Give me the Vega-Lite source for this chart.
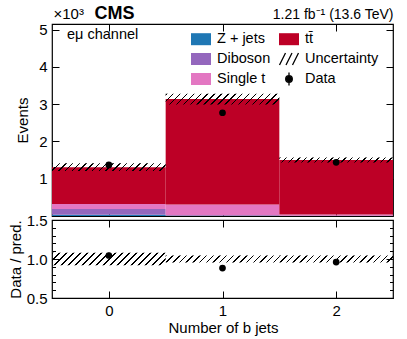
{
  "$schema": "https://vega.github.io/schema/vega-lite/v6.json",
  "padding": {"left": 7, "top": 3, "right": 5, "bottom": 5},
  "background": "white",
  "bounds": "flush",
  "config": {
    "font": "Liberation Sans",
    "view": {"stroke": "black", "strokeWidth": 1.2},
    "axis": {"domain": false, "grid": false, "labelFontSize": 15, "titleFontSize": 15, "titleFontWeight": "normal", "labelColor": "black", "titleColor": "black", "tickColor": "black", "tickWidth": 1, "labelPadding": 12}
  },
  "datasets": {
    "mc": [
      {"nb": 0, "lo": -0.5, "hi": 0.5, "process": "Z + jets", "ord": 1, "events": 0.035},
      {"nb": 0, "lo": -0.5, "hi": 0.5, "process": "Diboson", "ord": 2, "events": 0.155},
      {"nb": 0, "lo": -0.5, "hi": 0.5, "process": "Single t", "ord": 3, "events": 0.135},
      {"nb": 0, "lo": -0.5, "hi": 0.5, "process": "tt\u0304", "ord": 4, "events": 0.985},
      {"nb": 1, "lo": 0.5, "hi": 1.5, "process": "Z + jets", "ord": 1, "events": 0.005},
      {"nb": 1, "lo": 0.5, "hi": 1.5, "process": "Diboson", "ord": 2, "events": 0.012},
      {"nb": 1, "lo": 0.5, "hi": 1.5, "process": "Single t", "ord": 3, "events": 0.29},
      {"nb": 1, "lo": 0.5, "hi": 1.5, "process": "tt\u0304", "ord": 4, "events": 2.828},
      {"nb": 2, "lo": 1.5, "hi": 2.5, "process": "Z + jets", "ord": 1, "events": 0.002},
      {"nb": 2, "lo": 1.5, "hi": 2.5, "process": "Diboson", "ord": 2, "events": 0.003},
      {"nb": 2, "lo": 1.5, "hi": 2.5, "process": "Single t", "ord": 3, "events": 0.032},
      {"nb": 2, "lo": 1.5, "hi": 2.5, "process": "tt\u0304", "ord": 4, "events": 1.463}
    ],
    "unc": [
      {"nb": 0, "lo": -0.5, "hi": 0.5, "plo": 1.205, "phi": 1.415, "rlo": 0.92, "rhi": 1.08},
      {"nb": 1, "lo": 0.5, "hi": 1.5, "plo": 2.994, "phi": 3.276, "rlo": 0.955, "rhi": 1.045},
      {"nb": 2, "lo": 1.5, "hi": 2.5, "plo": 1.4325, "phi": 1.5675, "rlo": 0.955, "rhi": 1.045}
    ],
    "obs": [
      {"nb": 0, "events": 1.37, "elo": 1.333, "ehi": 1.407, "ratio": 1.045, "qlo": 1.017, "qhi": 1.073},
      {"nb": 1, "events": 2.77, "elo": 2.717, "ehi": 2.823, "ratio": 0.884, "qlo": 0.867, "qhi": 0.901},
      {"nb": 2, "events": 1.44, "elo": 1.402, "ehi": 1.478, "ratio": 0.96, "qlo": 0.935, "qhi": 0.985}
    ]
  },
  "spacing": 4,
  "resolve": {"scale": {"y": "independent"}, "legend": {"color": "independent"}},
  "vconcat": [
    {
      "width": 341,
      "height": 192,
      "resolve": {"axis": {"x": "independent", "y": "independent"}},
      "layer": [
        {
          "data": {"name": "mc"},
          "transform": [{"stack": "events", "groupby": ["nb"], "sort": [{"field": "ord", "order": "ascending"}], "as": ["y0", "y1"]}],
          "mark": {"type": "rect"},
          "encoding": {
            "x": {"field": "lo", "type": "quantitative", "scale": {"domain": [-0.5, 2.5], "nice": false, "zero": false},
                  "axis": {"orient": "bottom", "values": [0, 1, 2], "labels": false, "tickSize": -7, "title": "CMS", "titleX": 42, "titleY": -198, "titleAlign": "left", "titleBaseline": "alphabetic", "titleFontSize": 18, "titleFontWeight": "bold"}},
            "x2": {"field": "hi"},
            "y": {"field": "y0", "type": "quantitative", "scale": {"domain": [0, 5.15], "nice": false, "zero": false},
                  "axis": {"orient": "left", "values": [1, 2, 3, 4, 5], "tickSize": -7, "title": "Events", "titleX": -30, "titleY": 96, "titleAlign": "center", "titleBaseline": "middle"}},
            "y2": {"field": "y1"},
            "color": {"field": "process", "type": "nominal",
                      "scale": {"domain": ["Z + jets", "Diboson", "Single t", "tt\u0304", "Uncertainty", "Data"], "range": ["#1f77b4", "#9467bd", "#e377c2", "#bd0026", "transparent", "black"]},
                      "legend": {
                        "title": "e\u03bc channel", "titleOrient": "left", "titleAnchor": "start", "titleFontSize": 14.5, "titleFontWeight": "normal", "titleColor": "black", "titlePadding": 51,
                        "orient": "none", "legendX": 15, "legendY": 4,
                        "columns": 2, "columnPadding": 5, "rowPadding": 0,
                        "symbolSize": 400, "labelFontSize": 14.5, "labelOffset": 5, "labelColor": "black",
                        "encode": {"symbols": {"update": {
                          "shape": {"signal": "datum.value === 'Uncertainty' ? 'M-0.95,0.6L-0.35,-0.6M-0.3,0.6L0.3,-0.6M0.35,0.6L0.95,-0.6' : datum.value === 'Data' ? 'M0,-0.65V0.65M0.33,0A0.33,0.33,0,1,1,-0.33,0A0.33,0.33,0,1,1,0.33,0Z' : 'M-1,-0.6H1V0.6H-1Z'"},
                          "stroke": {"signal": "(datum.value === 'Uncertainty' || datum.value === 'Data') ? 'black' : 'transparent'"},
                          "strokeWidth": {"value": 1.3}
                        }}}
                      }}
          }
        },
        {
          "data": {"name": "unc"},
          "transform": [{"filter": "datum.nb === 0"}],
          "mark": {"type": "rect", "fill": {"gradient": "linear", "x1": 0, "y1": 0, "x2": 1.0638, "y2": 0.0733, "stops": [
{"offset":0,"color":"black"},{"offset":0.0122,"color":"black"},{"offset":0.0122,"color":"transparent"},{"offset":0.0556,"color":"transparent"},
{"offset":0.0556,"color":"black"},{"offset":0.0678,"color":"black"},{"offset":0.0678,"color":"transparent"},{"offset":0.1111,"color":"transparent"},
{"offset":0.1111,"color":"black"},{"offset":0.1233,"color":"black"},{"offset":0.1233,"color":"transparent"},{"offset":0.1667,"color":"transparent"},
{"offset":0.1667,"color":"black"},{"offset":0.1789,"color":"black"},{"offset":0.1789,"color":"transparent"},{"offset":0.2222,"color":"transparent"},
{"offset":0.2222,"color":"black"},{"offset":0.2344,"color":"black"},{"offset":0.2344,"color":"transparent"},{"offset":0.2778,"color":"transparent"},
{"offset":0.2778,"color":"black"},{"offset":0.29,"color":"black"},{"offset":0.29,"color":"transparent"},{"offset":0.3333,"color":"transparent"},
{"offset":0.3333,"color":"black"},{"offset":0.3456,"color":"black"},{"offset":0.3456,"color":"transparent"},{"offset":0.3889,"color":"transparent"},
{"offset":0.3889,"color":"black"},{"offset":0.4011,"color":"black"},{"offset":0.4011,"color":"transparent"},{"offset":0.4444,"color":"transparent"},
{"offset":0.4444,"color":"black"},{"offset":0.4567,"color":"black"},{"offset":0.4567,"color":"transparent"},{"offset":0.5,"color":"transparent"},
{"offset":0.5,"color":"black"},{"offset":0.5122,"color":"black"},{"offset":0.5122,"color":"transparent"},{"offset":0.5556,"color":"transparent"},
{"offset":0.5556,"color":"black"},{"offset":0.5678,"color":"black"},{"offset":0.5678,"color":"transparent"},{"offset":0.6111,"color":"transparent"},
{"offset":0.6111,"color":"black"},{"offset":0.6233,"color":"black"},{"offset":0.6233,"color":"transparent"},{"offset":0.6667,"color":"transparent"},
{"offset":0.6667,"color":"black"},{"offset":0.6789,"color":"black"},{"offset":0.6789,"color":"transparent"},{"offset":0.7222,"color":"transparent"},
{"offset":0.7222,"color":"black"},{"offset":0.7344,"color":"black"},{"offset":0.7344,"color":"transparent"},{"offset":0.7778,"color":"transparent"},
{"offset":0.7778,"color":"black"},{"offset":0.79,"color":"black"},{"offset":0.79,"color":"transparent"},{"offset":0.8333,"color":"transparent"},
{"offset":0.8333,"color":"black"},{"offset":0.8456,"color":"black"},{"offset":0.8456,"color":"transparent"},{"offset":0.8889,"color":"transparent"},
{"offset":0.8889,"color":"black"},{"offset":0.9011,"color":"black"},{"offset":0.9011,"color":"transparent"},{"offset":0.9444,"color":"transparent"},
{"offset":0.9444,"color":"black"},{"offset":0.9567,"color":"black"},{"offset":0.9567,"color":"transparent"},{"offset":1,"color":"transparent"}
          ]}},
          "encoding": {
            "x": {"field": "lo", "type": "quantitative",
                  "axis": {"orient": "top", "values": [0, 1, 2], "labels": false, "tickSize": -7, "title": "1.21 fb\u207b\u00b9 (13.6 TeV)", "titleX": 341, "titleY": -6, "titleAlign": "right", "titleBaseline": "alphabetic", "titleFontSize": 14}},
            "x2": {"field": "hi"},
            "y": {"field": "plo", "type": "quantitative",
                  "axis": {"orient": "right", "values": [1, 2, 3, 4, 5], "labels": false, "tickSize": -7, "title": "\u00d710\u00b3", "titleAngle": 0, "titleX": -340, "titleY": -6, "titleAlign": "left", "titleBaseline": "alphabetic", "titleFontSize": 15}},
            "y2": {"field": "phi"}
          }
        },
        {
          "data": {"name": "unc"},
          "transform": [{"filter": "datum.nb === 1"}],
          "mark": {"type": "rect", "fill": {"gradient": "linear", "x1": 0, "y1": 0, "x2": 1.0832, "y2": 0.1002, "stops": [
{"offset":0,"color":"black"},{"offset":0.0122,"color":"black"},{"offset":0.0122,"color":"transparent"},{"offset":0.0556,"color":"transparent"},
{"offset":0.0556,"color":"black"},{"offset":0.0678,"color":"black"},{"offset":0.0678,"color":"transparent"},{"offset":0.1111,"color":"transparent"},
{"offset":0.1111,"color":"black"},{"offset":0.1233,"color":"black"},{"offset":0.1233,"color":"transparent"},{"offset":0.1667,"color":"transparent"},
{"offset":0.1667,"color":"black"},{"offset":0.1789,"color":"black"},{"offset":0.1789,"color":"transparent"},{"offset":0.2222,"color":"transparent"},
{"offset":0.2222,"color":"black"},{"offset":0.2344,"color":"black"},{"offset":0.2344,"color":"transparent"},{"offset":0.2778,"color":"transparent"},
{"offset":0.2778,"color":"black"},{"offset":0.29,"color":"black"},{"offset":0.29,"color":"transparent"},{"offset":0.3333,"color":"transparent"},
{"offset":0.3333,"color":"black"},{"offset":0.3456,"color":"black"},{"offset":0.3456,"color":"transparent"},{"offset":0.3889,"color":"transparent"},
{"offset":0.3889,"color":"black"},{"offset":0.4011,"color":"black"},{"offset":0.4011,"color":"transparent"},{"offset":0.4444,"color":"transparent"},
{"offset":0.4444,"color":"black"},{"offset":0.4567,"color":"black"},{"offset":0.4567,"color":"transparent"},{"offset":0.5,"color":"transparent"},
{"offset":0.5,"color":"black"},{"offset":0.5122,"color":"black"},{"offset":0.5122,"color":"transparent"},{"offset":0.5556,"color":"transparent"},
{"offset":0.5556,"color":"black"},{"offset":0.5678,"color":"black"},{"offset":0.5678,"color":"transparent"},{"offset":0.6111,"color":"transparent"},
{"offset":0.6111,"color":"black"},{"offset":0.6233,"color":"black"},{"offset":0.6233,"color":"transparent"},{"offset":0.6667,"color":"transparent"},
{"offset":0.6667,"color":"black"},{"offset":0.6789,"color":"black"},{"offset":0.6789,"color":"transparent"},{"offset":0.7222,"color":"transparent"},
{"offset":0.7222,"color":"black"},{"offset":0.7344,"color":"black"},{"offset":0.7344,"color":"transparent"},{"offset":0.7778,"color":"transparent"},
{"offset":0.7778,"color":"black"},{"offset":0.79,"color":"black"},{"offset":0.79,"color":"transparent"},{"offset":0.8333,"color":"transparent"},
{"offset":0.8333,"color":"black"},{"offset":0.8456,"color":"black"},{"offset":0.8456,"color":"transparent"},{"offset":0.8889,"color":"transparent"},
{"offset":0.8889,"color":"black"},{"offset":0.9011,"color":"black"},{"offset":0.9011,"color":"transparent"},{"offset":0.9444,"color":"transparent"},
{"offset":0.9444,"color":"black"},{"offset":0.9567,"color":"black"},{"offset":0.9567,"color":"transparent"},{"offset":1,"color":"transparent"}
          ]}},
          "encoding": {
            "x": {"field": "lo", "type": "quantitative", "axis": null},
            "x2": {"field": "hi"},
            "y": {"field": "plo", "type": "quantitative", "axis": null},
            "y2": {"field": "phi"}
          }
        },
        {
          "data": {"name": "unc"},
          "transform": [{"filter": "datum.nb === 2"}],
          "mark": {"type": "rect", "fill": {"gradient": "linear", "x1": 0, "y1": 0, "x2": 1.0422, "y2": 0.0461, "stops": [
{"offset":0,"color":"black"},{"offset":0.0122,"color":"black"},{"offset":0.0122,"color":"transparent"},{"offset":0.0556,"color":"transparent"},
{"offset":0.0556,"color":"black"},{"offset":0.0678,"color":"black"},{"offset":0.0678,"color":"transparent"},{"offset":0.1111,"color":"transparent"},
{"offset":0.1111,"color":"black"},{"offset":0.1233,"color":"black"},{"offset":0.1233,"color":"transparent"},{"offset":0.1667,"color":"transparent"},
{"offset":0.1667,"color":"black"},{"offset":0.1789,"color":"black"},{"offset":0.1789,"color":"transparent"},{"offset":0.2222,"color":"transparent"},
{"offset":0.2222,"color":"black"},{"offset":0.2344,"color":"black"},{"offset":0.2344,"color":"transparent"},{"offset":0.2778,"color":"transparent"},
{"offset":0.2778,"color":"black"},{"offset":0.29,"color":"black"},{"offset":0.29,"color":"transparent"},{"offset":0.3333,"color":"transparent"},
{"offset":0.3333,"color":"black"},{"offset":0.3456,"color":"black"},{"offset":0.3456,"color":"transparent"},{"offset":0.3889,"color":"transparent"},
{"offset":0.3889,"color":"black"},{"offset":0.4011,"color":"black"},{"offset":0.4011,"color":"transparent"},{"offset":0.4444,"color":"transparent"},
{"offset":0.4444,"color":"black"},{"offset":0.4567,"color":"black"},{"offset":0.4567,"color":"transparent"},{"offset":0.5,"color":"transparent"},
{"offset":0.5,"color":"black"},{"offset":0.5122,"color":"black"},{"offset":0.5122,"color":"transparent"},{"offset":0.5556,"color":"transparent"},
{"offset":0.5556,"color":"black"},{"offset":0.5678,"color":"black"},{"offset":0.5678,"color":"transparent"},{"offset":0.6111,"color":"transparent"},
{"offset":0.6111,"color":"black"},{"offset":0.6233,"color":"black"},{"offset":0.6233,"color":"transparent"},{"offset":0.6667,"color":"transparent"},
{"offset":0.6667,"color":"black"},{"offset":0.6789,"color":"black"},{"offset":0.6789,"color":"transparent"},{"offset":0.7222,"color":"transparent"},
{"offset":0.7222,"color":"black"},{"offset":0.7344,"color":"black"},{"offset":0.7344,"color":"transparent"},{"offset":0.7778,"color":"transparent"},
{"offset":0.7778,"color":"black"},{"offset":0.79,"color":"black"},{"offset":0.79,"color":"transparent"},{"offset":0.8333,"color":"transparent"},
{"offset":0.8333,"color":"black"},{"offset":0.8456,"color":"black"},{"offset":0.8456,"color":"transparent"},{"offset":0.8889,"color":"transparent"},
{"offset":0.8889,"color":"black"},{"offset":0.9011,"color":"black"},{"offset":0.9011,"color":"transparent"},{"offset":0.9444,"color":"transparent"},
{"offset":0.9444,"color":"black"},{"offset":0.9567,"color":"black"},{"offset":0.9567,"color":"transparent"},{"offset":1,"color":"transparent"}
          ]}},
          "encoding": {
            "x": {"field": "lo", "type": "quantitative", "axis": null},
            "x2": {"field": "hi"},
            "y": {"field": "plo", "type": "quantitative", "axis": null},
            "y2": {"field": "phi"}
          }
        },
        {
          "data": {"name": "obs"},
          "mark": {"type": "rule", "color": "black", "strokeWidth": 1.3},
          "encoding": {
            "x": {"field": "nb", "type": "quantitative", "axis": null},
            "y": {"field": "elo", "type": "quantitative", "axis": null},
            "y2": {"field": "ehi"}
          }
        },
        {
          "data": {"name": "obs"},
          "mark": {"type": "point", "filled": true, "color": "black", "size": 45, "opacity": 1},
          "encoding": {
            "x": {"field": "nb", "type": "quantitative", "axis": null},
            "y": {"field": "events", "type": "quantitative", "axis": null}
          }
        }
      ]
    },
    {
      "width": 341,
      "height": 78,
      "resolve": {"axis": {"x": "independent", "y": "independent"}},
      "layer": [
        {
          "data": {"name": "unc"},
          "transform": [{"filter": "datum.nb === 0"}],
          "mark": {"type": "rect", "fill": {"gradient": "linear", "x1": 0, "y1": 0, "x2": 1.0966, "y2": 0.1204, "stops": [
{"offset":0,"color":"black"},{"offset":0.0122,"color":"black"},{"offset":0.0122,"color":"transparent"},{"offset":0.0556,"color":"transparent"},
{"offset":0.0556,"color":"black"},{"offset":0.0678,"color":"black"},{"offset":0.0678,"color":"transparent"},{"offset":0.1111,"color":"transparent"},
{"offset":0.1111,"color":"black"},{"offset":0.1233,"color":"black"},{"offset":0.1233,"color":"transparent"},{"offset":0.1667,"color":"transparent"},
{"offset":0.1667,"color":"black"},{"offset":0.1789,"color":"black"},{"offset":0.1789,"color":"transparent"},{"offset":0.2222,"color":"transparent"},
{"offset":0.2222,"color":"black"},{"offset":0.2344,"color":"black"},{"offset":0.2344,"color":"transparent"},{"offset":0.2778,"color":"transparent"},
{"offset":0.2778,"color":"black"},{"offset":0.29,"color":"black"},{"offset":0.29,"color":"transparent"},{"offset":0.3333,"color":"transparent"},
{"offset":0.3333,"color":"black"},{"offset":0.3456,"color":"black"},{"offset":0.3456,"color":"transparent"},{"offset":0.3889,"color":"transparent"},
{"offset":0.3889,"color":"black"},{"offset":0.4011,"color":"black"},{"offset":0.4011,"color":"transparent"},{"offset":0.4444,"color":"transparent"},
{"offset":0.4444,"color":"black"},{"offset":0.4567,"color":"black"},{"offset":0.4567,"color":"transparent"},{"offset":0.5,"color":"transparent"},
{"offset":0.5,"color":"black"},{"offset":0.5122,"color":"black"},{"offset":0.5122,"color":"transparent"},{"offset":0.5556,"color":"transparent"},
{"offset":0.5556,"color":"black"},{"offset":0.5678,"color":"black"},{"offset":0.5678,"color":"transparent"},{"offset":0.6111,"color":"transparent"},
{"offset":0.6111,"color":"black"},{"offset":0.6233,"color":"black"},{"offset":0.6233,"color":"transparent"},{"offset":0.6667,"color":"transparent"},
{"offset":0.6667,"color":"black"},{"offset":0.6789,"color":"black"},{"offset":0.6789,"color":"transparent"},{"offset":0.7222,"color":"transparent"},
{"offset":0.7222,"color":"black"},{"offset":0.7344,"color":"black"},{"offset":0.7344,"color":"transparent"},{"offset":0.7778,"color":"transparent"},
{"offset":0.7778,"color":"black"},{"offset":0.79,"color":"black"},{"offset":0.79,"color":"transparent"},{"offset":0.8333,"color":"transparent"},
{"offset":0.8333,"color":"black"},{"offset":0.8456,"color":"black"},{"offset":0.8456,"color":"transparent"},{"offset":0.8889,"color":"transparent"},
{"offset":0.8889,"color":"black"},{"offset":0.9011,"color":"black"},{"offset":0.9011,"color":"transparent"},{"offset":0.9444,"color":"transparent"},
{"offset":0.9444,"color":"black"},{"offset":0.9567,"color":"black"},{"offset":0.9567,"color":"transparent"},{"offset":1,"color":"transparent"}
          ]}},
          "encoding": {
            "x": {"field": "lo", "type": "quantitative", "scale": {"domain": [-0.5, 2.5], "nice": false, "zero": false},
                  "axis": {"orient": "bottom", "values": [0, 1, 2], "tickSize": -7, "title": "Number of b jets", "titleX": 171, "titleY": 34, "titleAlign": "center", "titleBaseline": "alphabetic"}},
            "x2": {"field": "hi"},
            "y": {"field": "rlo", "type": "quantitative", "scale": {"domain": [0.5, 1.5], "nice": false, "zero": false},
                  "axis": {"orient": "left", "values": [0.5, 1.0, 1.5], "format": ".1f", "tickSize": -7, "title": "Data / pred.", "titleX": -37, "titleY": 39, "titleAlign": "center", "titleBaseline": "middle"}},
            "y2": {"field": "rhi"}
          }
        },
        {
          "data": {"name": "unc"},
          "transform": [{"filter": "datum.nb >= 1"}],
          "mark": {"type": "rect", "fill": {"gradient": "linear", "x1": 0, "y1": 0, "x2": 1.0577, "y2": 0.0653, "stops": [
{"offset":0,"color":"black"},{"offset":0.0122,"color":"black"},{"offset":0.0122,"color":"transparent"},{"offset":0.0556,"color":"transparent"},
{"offset":0.0556,"color":"black"},{"offset":0.0678,"color":"black"},{"offset":0.0678,"color":"transparent"},{"offset":0.1111,"color":"transparent"},
{"offset":0.1111,"color":"black"},{"offset":0.1233,"color":"black"},{"offset":0.1233,"color":"transparent"},{"offset":0.1667,"color":"transparent"},
{"offset":0.1667,"color":"black"},{"offset":0.1789,"color":"black"},{"offset":0.1789,"color":"transparent"},{"offset":0.2222,"color":"transparent"},
{"offset":0.2222,"color":"black"},{"offset":0.2344,"color":"black"},{"offset":0.2344,"color":"transparent"},{"offset":0.2778,"color":"transparent"},
{"offset":0.2778,"color":"black"},{"offset":0.29,"color":"black"},{"offset":0.29,"color":"transparent"},{"offset":0.3333,"color":"transparent"},
{"offset":0.3333,"color":"black"},{"offset":0.3456,"color":"black"},{"offset":0.3456,"color":"transparent"},{"offset":0.3889,"color":"transparent"},
{"offset":0.3889,"color":"black"},{"offset":0.4011,"color":"black"},{"offset":0.4011,"color":"transparent"},{"offset":0.4444,"color":"transparent"},
{"offset":0.4444,"color":"black"},{"offset":0.4567,"color":"black"},{"offset":0.4567,"color":"transparent"},{"offset":0.5,"color":"transparent"},
{"offset":0.5,"color":"black"},{"offset":0.5122,"color":"black"},{"offset":0.5122,"color":"transparent"},{"offset":0.5556,"color":"transparent"},
{"offset":0.5556,"color":"black"},{"offset":0.5678,"color":"black"},{"offset":0.5678,"color":"transparent"},{"offset":0.6111,"color":"transparent"},
{"offset":0.6111,"color":"black"},{"offset":0.6233,"color":"black"},{"offset":0.6233,"color":"transparent"},{"offset":0.6667,"color":"transparent"},
{"offset":0.6667,"color":"black"},{"offset":0.6789,"color":"black"},{"offset":0.6789,"color":"transparent"},{"offset":0.7222,"color":"transparent"},
{"offset":0.7222,"color":"black"},{"offset":0.7344,"color":"black"},{"offset":0.7344,"color":"transparent"},{"offset":0.7778,"color":"transparent"},
{"offset":0.7778,"color":"black"},{"offset":0.79,"color":"black"},{"offset":0.79,"color":"transparent"},{"offset":0.8333,"color":"transparent"},
{"offset":0.8333,"color":"black"},{"offset":0.8456,"color":"black"},{"offset":0.8456,"color":"transparent"},{"offset":0.8889,"color":"transparent"},
{"offset":0.8889,"color":"black"},{"offset":0.9011,"color":"black"},{"offset":0.9011,"color":"transparent"},{"offset":0.9444,"color":"transparent"},
{"offset":0.9444,"color":"black"},{"offset":0.9567,"color":"black"},{"offset":0.9567,"color":"transparent"},{"offset":1,"color":"transparent"}
          ]}},
          "encoding": {
            "x": {"field": "lo", "type": "quantitative",
                  "axis": {"orient": "top", "values": [0, 1, 2], "labels": false, "tickSize": -7, "title": null}},
            "x2": {"field": "hi"},
            "y": {"field": "rlo", "type": "quantitative",
                  "axis": {"orient": "right", "values": [0.5, 1.0, 1.5], "labels": false, "tickSize": -7, "title": null}},
            "y2": {"field": "rhi"}
          }
        },
        {
          "data": {"name": "obs"},
          "mark": {"type": "rule", "color": "black", "strokeWidth": 1.3},
          "encoding": {
            "x": {"field": "nb", "type": "quantitative", "axis": null},
            "y": {"field": "qlo", "type": "quantitative",
                  "axis": {"orient": "left", "values": [0.6, 0.7, 0.8, 0.9, 1.1, 1.2, 1.3, 1.4], "labels": false, "tickSize": -3.5, "title": null}},
            "y2": {"field": "qhi"}
          }
        },
        {
          "data": {"name": "obs"},
          "mark": {"type": "point", "filled": true, "color": "black", "size": 45, "opacity": 1},
          "encoding": {
            "x": {"field": "nb", "type": "quantitative", "axis": null},
            "y": {"field": "ratio", "type": "quantitative",
                  "axis": {"orient": "right", "values": [0.6, 0.7, 0.8, 0.9, 1.1, 1.2, 1.3, 1.4], "labels": false, "tickSize": -3.5, "title": null}}
          }
        }
      ]
    }
  ]
}
